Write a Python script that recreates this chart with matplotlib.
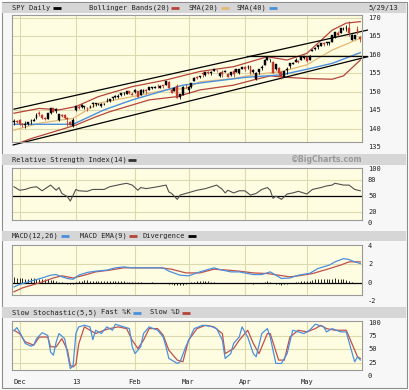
import matplotlib
matplotlib.use("Agg")
import matplotlib.pyplot as plt
import matplotlib.transforms as mtransforms
from matplotlib.patches import Rectangle

# trading days 11/29/12 .. 5/29/13 -> index 0..123
month_idx = [2, 22, 43, 62, 82, 104]
month_lbl = ["Dec", "13", "Feb", "Mar", "Apr", "May"]

opens = [141.9, 142.0, 142.4, 141.4, 141.0, 141.3, 142.0, 142.1, 142.8, 144.2,
         143.8, 142.8, 142.6, 144.3, 145.6, 144.8, 142.3, 143.7, 143.6, 142.9,
         141.7, 140.6, 145.1, 146.0, 145.9, 145.9, 145.7, 145.8, 146.8, 146.8,
         146.6, 146.1, 146.7, 147.5, 147.4, 148.2, 148.6, 148.6, 149.2, 149.6,
         149.5, 150.1, 149.5, 149.9, 150.2, 149.2, 149.9, 150.5, 150.6, 151.1,
         151.0, 151.6, 151.0, 151.7, 151.9, 152.7, 150.6, 150.3, 151.7, 148.6,
         149.2, 151.1, 150.4, 151.3, 153.0, 154.0, 153.9, 155.0, 154.6, 155.3,
         155.1, 155.7, 155.9, 154.3, 155.3, 155.4, 154.8, 154.5, 155.6, 155.4,
         155.1, 156.2, 156.6, 156.6, 156.9, 155.4, 153.6, 155.3, 156.4, 157.2,
         158.7, 158.8, 158.0, 156.2, 156.5, 155.4, 154.1, 155.8, 157.0, 157.6,
         158.2, 158.3, 158.6, 159.2, 159.3, 158.6, 161.1, 161.7, 162.2, 162.4,
         163.2, 163.1, 163.2, 163.6, 164.9, 166.0, 166.0, 167.0, 167.2, 167.4,
         164.0, 164.3, 166.9, 164.8]
highs = [142.6, 142.3, 142.6, 141.6, 142.0, 141.9, 142.6, 142.8, 144.2, 144.9,
         144.1, 143.1, 144.3, 145.7, 145.7, 145.5, 144.1, 143.9, 144.0, 143.1,
         142.2, 142.9, 146.2, 146.4, 146.6, 146.1, 145.9, 146.3, 147.1, 147.0,
         146.9, 146.9, 147.0, 148.2, 148.0, 148.7, 149.0, 149.3, 149.8, 149.9,
         150.2, 150.3, 149.9, 150.8, 150.3, 150.7, 150.7, 150.8, 151.4, 151.3,
         151.6, 152.0, 151.8, 151.9, 152.9, 152.9, 150.9, 151.2, 152.0, 149.5,
         151.6, 152.0, 151.6, 152.4, 154.0, 154.2, 154.3, 155.3, 155.4, 155.6,
         155.6, 156.3, 156.0, 155.4, 155.8, 156.0, 155.2, 155.4, 156.3, 156.2,
         156.2, 156.8, 156.9, 157.2, 157.0, 156.1, 155.3, 156.3, 157.3, 158.9,
         159.7, 159.0, 158.4, 157.5, 156.6, 155.5, 155.6, 156.7, 157.9, 158.2,
         159.2, 158.6, 159.4, 159.8, 159.4, 160.0, 161.7, 162.0, 162.7, 163.3,
         163.6, 163.5, 163.6, 165.4, 166.3, 166.4, 167.3, 167.6, 168.0, 169.1,
         165.6, 165.3, 167.8, 165.2]
lows = [141.1, 141.5, 141.1, 140.5, 140.3, 141.0, 141.4, 142.0, 142.7, 143.4,
        142.6, 142.3, 142.5, 144.1, 144.6, 144.2, 142.2, 143.3, 142.5, 140.8,
        140.9, 140.4, 144.7, 145.3, 145.7, 145.4, 144.8, 145.6, 145.9, 146.2,
        146.3, 145.9, 146.4, 147.3, 147.2, 147.8, 148.4, 148.4, 148.9, 149.2,
        149.3, 149.4, 149.0, 149.8, 148.7, 149.1, 149.8, 149.3, 150.5, 150.7,
        150.9, 151.0, 150.9, 151.1, 151.8, 150.9, 149.6, 150.1, 148.3, 148.0,
        149.1, 150.9, 149.8, 151.0, 152.9, 153.4, 153.7, 154.0, 154.4, 154.7,
        154.6, 155.6, 155.3, 154.1, 153.9, 155.3, 153.9, 154.4, 154.1, 155.3,
        154.9, 156.1, 155.6, 156.2, 154.8, 155.1, 153.3, 154.9, 155.9, 157.2,
        158.6, 158.1, 155.0, 156.0, 154.4, 153.5, 154.0, 154.8, 156.5, 157.4,
        158.1, 157.8, 158.6, 158.8, 158.1, 158.5, 161.0, 161.4, 161.5, 162.3,
        162.5, 162.6, 162.7, 163.6, 164.7, 165.1, 165.9, 166.8, 166.5, 165.1,
        163.9, 164.2, 165.7, 163.4]
closes = [142.1, 141.9, 141.3, 141.0, 141.4, 141.8, 142.2, 142.4, 143.8, 143.9,
          143.0, 142.5, 144.2, 145.6, 144.6, 145.4, 143.9, 143.5, 142.9, 142.6,
          141.0, 142.4, 146.1, 145.7, 146.4, 145.9, 145.5, 145.9, 146.8, 146.8,
          146.6, 146.8, 146.8, 147.6, 148.0, 148.6, 148.8, 148.8, 149.7, 149.6,
          150.2, 149.6, 149.1, 150.6, 148.7, 150.4, 150.6, 150.3, 151.2, 151.1,
          151.3, 151.5, 151.7, 151.6, 152.8, 150.9, 149.8, 151.1, 148.3, 149.3,
          151.2, 150.9, 151.4, 152.3, 153.7, 153.8, 154.2, 154.8, 155.4, 155.1,
          155.4, 156.2, 155.8, 155.1, 154.8, 155.6, 154.0, 155.3, 154.8, 156.2,
          156.2, 156.7, 156.1, 156.8, 155.2, 155.9, 155.2, 156.2, 156.8, 158.7,
          159.3, 158.8, 155.1, 157.4, 155.1, 153.9, 155.5, 156.2, 157.8, 157.9,
          158.5, 158.2, 159.3, 159.7, 158.3, 159.8, 161.4, 161.8, 162.6, 163.3,
          162.9, 163.4, 163.4, 165.3, 166.1, 165.3, 167.2, 167.0, 167.2, 165.9,
          165.4, 165.3, 166.0, 164.4]

# overlays (day index, value)
bb_up_x = [0, 9, 16, 22, 30, 42, 54, 66, 78, 90, 97, 104, 113, 118, 123]
bb_up = [144.2, 145.5, 145.1, 146.0, 148.7, 151.4, 153.2, 155.5, 156.8, 159.5,
         158.6, 160.4, 166.7, 168.6, 169.0]
bb_lo_x = [0, 6, 16, 22, 29, 34, 48, 58, 66, 78, 85, 91, 97, 104, 113, 117, 123]
bb_lo = [135.6, 137.3, 139.6, 141.0, 143.2, 144.6, 147.8, 148.7, 150.5, 151.8,
         153.2, 154.3, 153.9, 153.6, 153.4, 154.3, 158.6]
sma20_x = [0, 9, 21, 30, 42, 54, 61, 66, 78, 85, 95, 104, 113, 123]
sma20 = [139.6, 141.5, 142.8, 146.9, 148.7, 150.5, 150.9, 152.7, 153.6, 154.6,
         155.5, 157.3, 161.3, 164.5]
sma40_x = [0, 21, 32, 42, 60, 82, 95, 104, 113, 123]
sma40 = [141.2, 141.2, 145.1, 147.8, 151.8, 153.9, 154.6, 156.1, 157.7, 160.6]

# trend lines (start day, start price, end day, end price)
up_line = [0, 145.3, 125.5, 166.7]
lo_line = [-0.3, 135.6, 125.6, 159.5]
flat_line = [82.6, 159.8, 125.5, 159.8]

rsi_x = [0, 2, 4, 6, 8, 10, 13, 15, 16, 17, 19, 20, 22, 23, 26, 28, 32, 34, 38,
         40, 42, 44, 45, 47, 51, 54, 55, 56, 58, 59, 61, 65, 68, 72, 74, 75, 76,
         78, 80, 82, 84, 86, 88, 90, 91, 92, 93, 95, 97, 99, 101, 104, 106, 109,
         111, 113, 114, 117, 119, 121, 123]
rsi = [67.5, 61, 62.5, 66, 67.5, 60, 70.6, 61, 66, 55, 49, 41, 62.5, 60, 59,
       62.5, 62.5, 67.5, 72, 74, 70.6, 61, 66, 64, 67.5, 70.6, 58, 55, 44, 52,
       55, 61, 64, 70.6, 62.5, 56, 61, 56, 60, 60, 52, 55, 62.5, 66, 61, 46,
       50, 44, 54, 56, 59, 54, 62.5, 66, 69, 70.6, 74, 70.6, 70.6, 62.5, 60]

macd_x = [0, 2, 7, 10, 13, 15, 16, 19, 21, 23, 26, 29, 33, 36, 39, 42, 48, 53,
          55, 59, 62, 66, 71, 73, 77, 80, 85, 88, 91, 93, 95, 98, 101, 105, 108,
          112, 114, 117, 119, 121, 123]
macd = [-0.47, -0.2, 0.25, 0.5, 0.8, 0.87, 0.73, 0.44, 0.36, 0.8, 1.1, 1.24,
        1.35, 1.6, 1.7, 1.6, 1.6, 1.6, 1.24, 0.8, 0.73, 1.16, 1.6, 1.42, 1.16,
        1.16, 0.87, 0.87, 1.16, 0.8, 0.44, 0.5, 0.8, 1.0, 1.53, 1.9, 2.25, 2.6,
        2.5, 2.25, 2.07]
ema_x = [0, 3, 7, 10, 14, 17, 21, 25, 29, 34, 39, 45, 52, 56, 61, 66, 71, 76,
         80, 85, 90, 94, 98, 101, 106, 111, 116, 119, 123]
ema = [-1.0, -0.58, -0.22, 0.07, 0.5, 0.73, 0.5, 0.8, 1.16, 1.35, 1.6, 1.6,
       1.6, 1.45, 1.05, 1.05, 1.45, 1.35, 1.24, 1.05, 0.98, 0.8, 0.62, 0.73,
       0.98, 1.42, 1.9, 2.25, 2.25]
diverg = [0.6, 0.55, 0.5, 0.45, 0.42, 0.42, 0.45, 0.45, 0.42, 0.4,
          0.4, 0.38, 0.35, 0.3, 0.25, 0.2, 0.1, 0.02, -0.1, -0.15,
          -0.2, -0.12, 0.05, 0.15, 0.22, 0.25, 0.25, 0.22, 0.2, 0.2,
          0.2, 0.18, 0.18, 0.2, 0.2, 0.18, 0.16, 0.15, 0.12, 0.12,
          0.08, 0.05, 0.04, 0.03, 0.02, 0.02, 0.0, 0.0, 0.0, 0.02,
          0.0, -0.02, -0.02, -0.05, -0.1, -0.15, -0.2, -0.25, -0.3, -0.28,
          -0.22, -0.15, -0.05, 0.05, 0.1, 0.15, 0.18, 0.18, 0.15, 0.12,
          0.1, 0.05, 0.0, -0.02, -0.05, -0.05, -0.08, -0.1, -0.08, -0.05,
          -0.05, -0.02, -0.05, -0.08, -0.1, -0.12, -0.1, -0.05, 0.0, 0.08,
          0.12, 0.08, -0.05, -0.12, -0.2, -0.22, -0.2, -0.15, -0.08, -0.02,
          0.05, 0.1, 0.12, 0.15, 0.15, 0.2, 0.28, 0.35, 0.4, 0.42,
          0.42, 0.42, 0.4, 0.42, 0.45, 0.42, 0.4, 0.35, 0.3, 0.2,
          0.1, 0.0, -0.05, -0.1]

pk_x = [0, 1, 2, 4, 6, 7, 8, 10, 12, 13, 14, 15, 16, 18, 19, 20, 21, 22, 23,
        25, 27, 28, 29, 31, 33, 35, 36, 39, 41, 42, 43, 45, 46, 48, 51, 52, 53,
        54, 55, 58, 59, 61, 64, 67, 70, 72, 74, 75, 77, 78, 79, 80, 81, 83, 85,
        86, 88, 90, 91, 93, 95, 97, 99, 101, 103, 105, 107, 110, 111, 113, 116,
        118, 120, 121, 122, 123]
pk = [84.5, 90.7, 82.6, 61, 56, 57.8, 70, 81, 76, 45, 39, 64, 79.5, 70, 42, 14,
      20, 80, 92, 95, 92, 68, 85.7, 79.5, 92, 85.7, 97, 92, 88.8, 54.7, 42,
      54.7, 79.5, 92, 85.7, 79.5, 73, 54.7, 33, 23.6, 26.7, 54.7, 88.8, 95, 93,
      88.8, 67, 33, 42, 61, 67, 73, 92, 73, 42, 36, 79.5, 88.8, 73, 23.6, 23.6,
      42, 85.7, 82.6, 79.5, 85.7, 97, 92, 82.6, 88.8, 82.6, 82.6, 45, 26.7,
      36, 30]
pd_x = [0, 2, 4, 7, 9, 12, 13, 15, 17, 19, 20, 21, 22, 23, 25, 27, 29, 32, 34,
        37, 40, 42, 44, 46, 48, 51, 53, 55, 58, 60, 62, 65, 68, 71, 74, 75, 78,
        80, 83, 85, 87, 90, 91, 94, 96, 98, 101, 104, 107, 109, 111, 114, 118,
        120, 122, 123]
pdv = [85.7, 79.5, 64, 57.8, 73, 73, 54.7, 54.7, 70, 48.4, 20, 17, 22, 60, 92,
       85.7, 79.5, 85.7, 88.8, 92, 88.8, 67, 51.5, 67, 88.8, 88.8, 76.4, 48.4,
       29.8, 26.7, 67, 88.8, 95, 92, 79.5, 42, 51.5, 67, 85.7, 61, 42, 79.5,
       79.5, 29.8, 29.8, 73, 85.7, 82.6, 88.8, 95, 88.8, 85.7, 85.7, 61, 36, 33]

W, H = 410, 390
panel_bg = "#fffde1"
grid_c = "#dcd9ae"
spine_c = "#9a9a9a"
band_c = "#d6d6d6"
red = "#b5443a"
tan = "#e3b877"
blue = "#4a90dc"
mono = "DejaVu Sans Mono"
fs = 5.0

fig = plt.figure(figsize=(W / 100, H / 100), dpi=100)
fig.patch.set_facecolor("white")

bg = fig.add_axes([0, 0, 1, 1])
bg.set_xlim(0, W)
bg.set_ylim(H, 0)
bg.axis("off")
bg.add_patch(Rectangle((2, 2), 405, 386, facecolor="#f7f7f7", edgecolor="#8c8c8c", lw=0.8))
for y0, y1 in [(2.5, 13), (154, 165), (231, 241), (307, 318)]:
    bg.add_patch(Rectangle((2.5, y0), 404, y1 - y0, facecolor=band_c, edgecolor="none"))


def label(x, y, text, color=None):
    bg.text(x, y, text, fontsize=fs, family=mono, va="center", ha="left", color="#222222")
    if color:
        x2 = x + len(text) * 4.18 + 3
        bg.plot([x2, x2 + 8], [y, y], color=color, lw=2, solid_capstyle="butt")


label(12, 7.8, "SPY Daily", "black")
label(89, 7.8, "Bollinger Bands(20)", red)
label(189, 7.8, "SMA(20)", tan)
label(237, 7.8, "SMA(40)", blue)
label(368, 7.8, "5/29/13")
label(12, 159.5, "Relative Strength Index(14)", "#333333")
bg.text(363, 159.5, "\u00a9BigCharts.com", fontsize=5.6, weight="bold", va="center",
        ha="right", color="#9a9a9a")
label(12, 236, "MACD(12,26)", blue)
label(80, 236, "MACD EMA(9)", red)
label(143, 236, "Divergence", "black")
label(12, 312.5, "Slow Stochastic(5,5)")
label(101, 312.5, "Fast %K", blue)
label(150, 312.5, "Slow %D", red)


def panel(y0, y1, ylim, ticks, hgrid):
    ax = fig.add_axes([12 / W, 1 - y1 / H, 350 / W, (y1 - y0) / H])
    ax.set_facecolor(panel_bg)
    ax.set_xlim(-0.7, 123.6)
    ax.set_ylim(*ylim)
    ax.set_xticks([])
    ax.set_yticks([])
    for s in ax.spines.values():
        s.set_color(spine_c)
        s.set_linewidth(0.8)
    for m in month_idx:
        ax.axvline(m, color=grid_c, lw=0.8, zorder=0)
    for g in hgrid:
        ax.axhline(g, color=grid_c, lw=0.8, zorder=0)
    tr = mtransforms.offset_copy(mtransforms.blended_transform_factory(ax.transAxes, ax.transData),
                                 fig=fig, x=6, y=0, units="dots")
    for t in ticks:
        ax.text(1, t, str(t), transform=tr, fontsize=fs, family=mono, va="center",
                ha="left", color="#222222", clip_on=False)
    return ax


# price panel
ax = panel(15, 142, (136.4, 170.8), [170, 165, 160, 155, 150, 145, 140, 135],
           [140, 145, 150, 155, 160, 165, 170])
ax.plot(bb_up_x, bb_up, color=red, lw=0.9)
ax.plot(bb_lo_x, bb_lo, color=red, lw=0.9)
ax.plot(sma20_x, sma20, color=tan, lw=0.9)
ax.plot(sma40_x, sma40, color=blue, lw=1.0)
for ln in [up_line, lo_line, flat_line]:
    ax.plot([ln[0], ln[2]], [ln[1], ln[3]], color="black", lw=0.9, clip_on=False)
for i in range(len(closes)):
    c = "#c0392b" if closes[i] < opens[i] else "black"
    ax.vlines(i, lows[i], highs[i], color=c, lw=0.6, zorder=3)
    lo_b = min(opens[i], closes[i])
    hb = max(abs(closes[i] - opens[i]), 0.12)
    ax.add_patch(Rectangle((i - 0.35, lo_b), 0.7, hb, facecolor=c, edgecolor=c, lw=0.3, zorder=4))

# RSI panel
ax = panel(168, 220, (5.6, 102.4), [100, 80, 50, 20, 0], [80, 20])
ax.axhline(50, color="black", lw=0.9, zorder=1)
ax.plot(rsi_x, rsi, color="#505050", lw=0.8)

# MACD panel
ax = panel(245, 295, (-1.35, 4.08), [4, 2, 0, -2], [2])
ax.axhline(0, color="black", lw=0.9, zorder=1)
ax.vlines(range(len(diverg)), 0, diverg, color="black", lw=0.6, zorder=2)
ax.plot(ema_x, ema, color="#c0504d", lw=0.9, zorder=3)
ax.plot(macd_x, macd, color=blue, lw=0.9, zorder=4)

# stochastic panel
ax = panel(321, 370, (11.3, 103), [100, 75, 50, 25, 0], [75, 50, 25])
ax.plot(pd_x, pdv, color="#c0504d", lw=0.9)
ax.plot(pk_x, pk, color=blue, lw=0.9)
dtr = mtransforms.offset_copy(mtransforms.blended_transform_factory(ax.transData, ax.transAxes),
                              fig=fig, x=0, y=-12, units="dots")
for m, lbl in zip(month_idx, month_lbl):
    ax.text(m, 0, lbl, transform=dtr, fontsize=fs, family=mono, va="center", ha="center",
            color="#222222", clip_on=False)

fig.savefig("out.png", dpi=100)
